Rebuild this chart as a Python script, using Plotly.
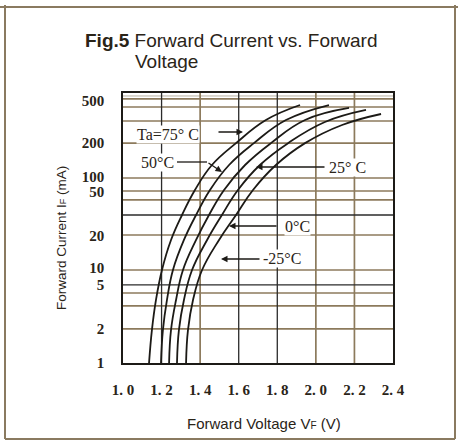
import plotly.graph_objects as go

# forward voltage (V) and forward current (mA)
v_75 = [1.135, 1.150, 1.171, 1.202, 1.249, 1.306, 1.373, 1.461, 1.586, 1.741, 1.918]
i_75 = [1.0, 2.14, 4.27, 8.51, 17.0, 30.2, 53.7, 95.5, 158, 269, 380]
v_50 = [1.197, 1.207, 1.228, 1.259, 1.316, 1.379, 1.451, 1.550, 1.679, 1.845, 2.068]
i_50 = [1.0, 2.14, 4.27, 8.51, 17.0, 30.2, 53.7, 95.5, 158, 269, 380]
v_25 = [1.239, 1.249, 1.275, 1.311, 1.379, 1.446, 1.524, 1.633, 1.767, 1.944, 2.172]
i_25 = [1.0, 2.14, 4.27, 8.51, 17.0, 30.2, 53.7, 95.5, 158, 269, 355]
v_0 = [1.280, 1.290, 1.316, 1.358, 1.436, 1.513, 1.596, 1.710, 1.856, 2.047, 2.260]
i_0 = [1.0, 2.14, 4.27, 8.51, 17.0, 30.2, 53.7, 95.5, 158, 257, 339]
v_m25 = [1.327, 1.337, 1.363, 1.410, 1.498, 1.586, 1.674, 1.793, 1.944, 2.136, 2.338]
i_m25 = [1.0, 2.14, 4.27, 8.51, 17.0, 30.2, 53.7, 95.5, 158, 240, 309]

# axis ticks as printed on the chart
x_tick_vals = [1.0, 1.2, 1.4, 1.6, 1.8, 2.0, 2.2, 2.4]
x_tick_text = ["1. 0", "1. 2", "1. 4", "1. 6", "1. 8", "2. 0", "2. 2", "2. 4"]
y_tick_vals = [1, 2.19, 6.03, 8.9, 18.6, 51.3, 72.4, 158, 417]
y_tick_text = ["1", "2", "5", "10", "20", "50", "100", "200", "500"]

# grid lines of the scanned sheet
x_grid_black = [1.2, 1.6, 1.8]
x_grid_brown = [1.4, 2.0, 2.2]
y_grid_brown = [2.19, 3.72, 5.01, 8.51, 19.05, 42.7, 52.5, 70.8, 158, 263, 363, 437]
y_grid_black = [6.03, 30.2]
y_grid_light = [468]

INK = "#2a2418"
BROWN = "#8c7a5c"


def px(x):
    return (x - 123) / 270


def py(y):
    return (363 - y) / 270


def hlines(vals):
    xs, ys = [], []
    for v in vals:
        xs += [1.0, 2.4, None]
        ys += [v, v, None]
    return xs, ys


def vlines(vals):
    xs, ys = [], []
    for v in vals:
        xs += [v, v, None]
        ys += [1, 501, None]
    return xs, ys


fig = go.Figure()

# Grid
for func, vals, color, width in [
    (hlines, y_grid_light, "#b8b0a0", 1),
    (hlines, y_grid_brown, BROWN, 1.7),
    (vlines, x_grid_brown, BROWN, 1.7),
    (hlines, y_grid_black, "#2b2b2b", 1.3),
    (vlines, x_grid_black, "#2b2b2b", 1.3),
]:
    gx, gy = func(vals)
    fig.add_trace(
        go.Scatter(x=gx, y=gy, mode="lines", line=dict(color=color, width=width),
                   hoverinfo="skip", showlegend=False)
    )

# Curves
for v, i in [(v_75, i_75), (v_50, i_50), (v_25, i_25), (v_0, i_0), (v_m25, i_m25)]:
    fig.add_trace(
        go.Scatter(x=v, y=i, mode="lines",
                   line=dict(color="#1c1a16", width=1.8, shape="spline", smoothing=1.2),
                   showlegend=False)
    )

fig.update_layout(
    width=458,
    height=442,
    margin=dict(l=123, r=65, t=93, b=79),
    plot_bgcolor="white",
    paper_bgcolor="white",
    showlegend=False,
)

fig.update_xaxes(
    range=[1.0, 2.4],
    showgrid=False,
    zeroline=False,
    showline=True,
    mirror=True,
    linecolor="#1c1a16",
    linewidth=1.5,
    tickvals=x_tick_vals,
    ticktext=x_tick_text,
    ticks="",
    ticklabelstandoff=12,
    tickfont=dict(family="Liberation Serif", size=15, color=INK, weight="bold"),
)
fig.update_yaxes(
    type="log",
    range=[0, 2.7],
    showgrid=False,
    zeroline=False,
    showline=True,
    mirror=True,
    linecolor="#1c1a16",
    linewidth=1.5,
    tickvals=y_tick_vals,
    ticktext=y_tick_text,
    ticks="",
    ticklabelstandoff=14,
    tickfont=dict(family="Liberation Serif", size=15, color=INK, weight="bold"),
)

# Outer frame of the scanned figure
frame = dict(color="#8a7a60", width=2)
fig.add_shape(type="line", xref="paper", yref="paper", x0=px(0), x1=px(458), y0=py(7), y1=py(7), line=frame)
fig.add_shape(type="line", xref="paper", yref="paper", x0=px(5), x1=px(5), y0=py(5), y1=py(439), line=frame)
fig.add_shape(type="line", xref="paper", yref="paper", x0=px(455), x1=px(455), y0=py(5), y1=py(439), line=frame)
fig.add_shape(type="line", xref="paper", yref="paper", x0=px(5), x1=px(455), y0=py(439), y1=py(439), line=frame)


def note(text, cx, cy, size, family="Liberation Sans", xanchor="center", **kw):
    fig.add_annotation(xref="paper", yref="paper", x=px(cx), y=py(cy), xanchor=xanchor, yanchor="middle",
                       text=text, showarrow=False, font=dict(family=family, size=size, color=INK), **kw)


# Titles
note("<b>Fig.5</b> Forward Current vs. Forward", 83, 41, 19, xanchor="left")
note("Voltage", 133, 61, 19, xanchor="left")
note("Forward Current I<span style='font-size:9px'>F</span> (mA)", 62, 238, 13.5, textangle=-90)
note("Forward Voltage V<span style='font-size:10px'>F</span> (V)", 264, 423, 15)

# Curve labels
for text, cx, cy in [
    ("Ta=75° C", 168, 134),
    ("50°C", 157, 162),
    ("25° C", 347, 167),
    ("0°C", 297, 226),
    ("-25°C", 282, 258),
]:
    note(text, cx, cy, 16, family="Liberation Serif", bgcolor="white", borderpad=0)

# Leader arrows
fig.add_shape(type="line", xref="paper", yref="paper", x0=px(177), x1=px(207), y0=py(162), y1=py(162),
              line=dict(color="#1c1a16", width=1.3))
for hx, hy, ax, ay in [
    (243, 132, -26, 0),
    (222, 172, -15, -10),
    (256, 167, 70, 0),
    (229, 226, 49, 0),
    (221, 259, 40, 0),
]:
    fig.add_annotation(xref="paper", yref="paper", x=px(hx), y=py(hy), ax=ax, ay=ay, text="",
                       showarrow=True, arrowhead=2, arrowsize=1, arrowwidth=1.3, arrowcolor="#1c1a16")

fig.write_html("out.html", config={"displayModeBar": False},
               post_script="document.body.style.margin='0';")
